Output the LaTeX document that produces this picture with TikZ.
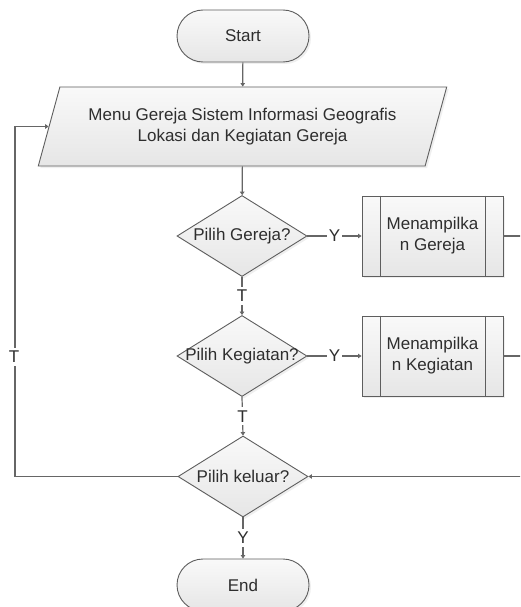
\documentclass[tikz,border=0pt]{standalone}
\usepackage{fontspec}
\setmainfont{Liberation Sans}
\usetikzlibrary{shapes.geometric,shapes.misc,shadows,arrows.meta}
\definecolor{bordergray}{HTML}{5E5E5E}
\definecolor{linegray}{HTML}{666666}
\definecolor{fillA}{HTML}{F9F9F9}
\definecolor{fillB}{HTML}{E6E6E6}
\definecolor{textgray}{HTML}{2E2E2E}
\tikzset{
  base/.style={draw=bordergray, line width=0.9pt, top color=fillA, bottom color=fillB,
    drop shadow={opacity=0.12, shadow xshift=2pt, shadow yshift=-2pt}},
  txt/.style={text=textgray, font=\fontsize{17}{21}\selectfont, align=center},
  term/.style={base, txt, rounded rectangle, minimum width=132pt, minimum height=52pt, inner sep=0pt},
  dec/.style={base, diamond, minimum width=130pt, minimum height=81pt, inner sep=0pt},
  proc/.style={base, txt, rectangle, minimum width=141pt, minimum height=80pt, inner sep=0pt},
  io/.style={base, txt, trapezium, trapezium left angle=63.7, trapezium right angle=116.3,
    trapezium stretches=true, minimum width=409pt, minimum height=79pt, inner sep=0pt},
  lbl/.style={txt, fill=white, inner xsep=1.5pt, inner ysep=3pt},
  conn/.style={draw=linegray, line width=1.2pt, -{Triangle[width=4.5pt,length=3.5pt]}},
  plain/.style={draw=linegray, line width=1.2pt},
}
\begin{document}
\begin{tikzpicture}[x=1pt, y=-1pt]
\useasboundingbox (0,0) rectangle (520,607);
\clip (0,0) rectangle (520,607);
\fill[white] (0,0) rectangle (520,607);

\node[term] (start) at (243,36) {Start};
\node[io] (menu) at (242.5,126.5) {Menu Gereja Sistem Informasi Geografis\\Lokasi dan Kegiatan Gereja};

\node[dec] (d1) at (242,236) {};
\node[txt] (d1t) at (d1.center) {Pilih Gereja?};
\node[proc] (p1) at (432.5,236) {Menampilka\\n Gereja};

\node[dec] (d2) at (242,356) {};
\node[txt] (d2t) at (d2.center) {Pilih Kegiatan?};
\node[proc] (p2) at (432.5,356) {Menampilka\\n Kegiatan};

\node[dec] (d3) at (243,476.5) {};
\node[txt] (d3t) at (d3.center) {Pilih keluar?};

\node[term] (end) at (243,585) {End};

\foreach \p in {p1,p2}{
  \draw[draw=bordergray, line width=0.9pt] ([xshift=19pt]\p.north west) -- ([xshift=19pt]\p.south west);
  \draw[draw=bordergray, line width=0.9pt] ([xshift=-18pt]\p.north east) -- ([xshift=-18pt]\p.south east);
}

\coordinate (re1) at (522,236);
\coordinate (re2) at (522,356);
\coordinate (re3) at (522,476.5);
\coordinate (lpx) at (15,300);

\draw[conn] (start) -- (menu);
\draw[conn] (menu) -- (d1);
\draw[conn] (d1.east) -- node[lbl] (y1) {Y} (p1.west);
\draw[conn] (d2.east) -- node[lbl] (y2) {Y} (p2.west);
\draw[conn] (d1.south) -- node[lbl] (t1) {T} (d2.north);
\draw[conn] (d2.south) -- node[lbl] (t2) {T} (d3.north);
\draw[conn] (d3.south) -- node[lbl] (y3) {Y} (end.north);
\draw[plain] (p1.east) -- (re1);
\draw[plain] (p2.east) -- (re2);
\draw[conn] (re3) -- (d3.east);
\draw[conn] (d3.west) -| (lpx) |- (menu.left side);
\node[lbl] (t3) at (14,357) {T};
\end{tikzpicture}
\end{document}
